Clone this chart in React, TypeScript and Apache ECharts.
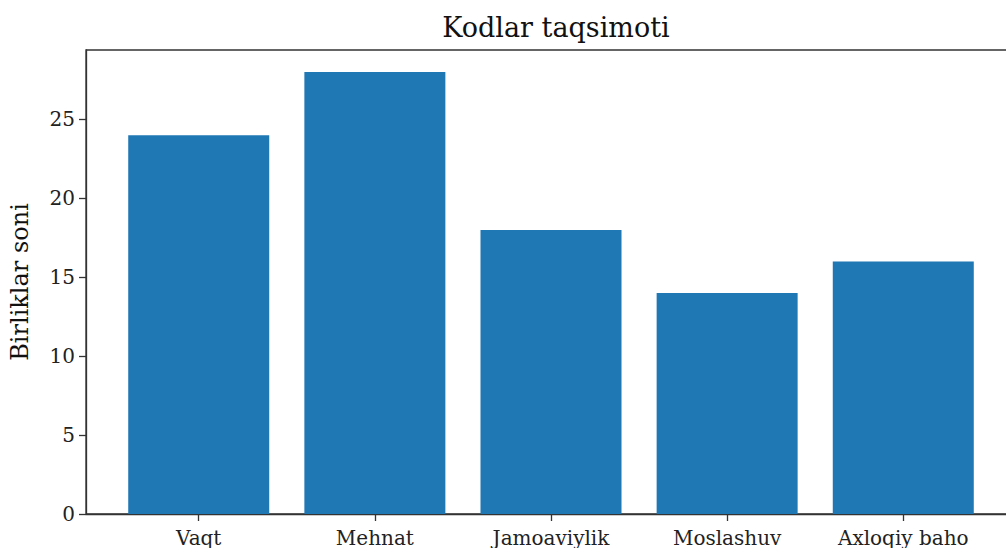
import React, { useEffect, useRef } from "react";
import * as echarts from "echarts";

const categories = ["Vaqt", "Mehnat", "Jamoaviylik", "Moslashuv", "Axloqiy baho"];
const values = [24, 28, 18, 14, 16];
const yTicks = [0, 5, 10, 15, 20, 25];

export default function App() {
  const ref = useRef<HTMLDivElement>(null);
  useEffect(() => {
    const chart = echarts.init(ref.current!, null, { renderer: "svg" });
    const font = "'DejaVu Serif', serif";
    chart.setOption({
      animation: false,
      backgroundColor: "#ffffff",
      title: {
        text: "Kodlar taqsimoti",
        left: 551,
        textAlign: "center",
        top: 9,
        textStyle: { fontFamily: font, fontSize: 27, fontWeight: "normal", color: "#111" },
      },
      grid: {
        left: 86,
        top: 50,
        height: 464,
        width: 930,
        outerBoundsMode: "none",
        containLabel: false,
        show: true,
        borderColor: "#333",
        borderWidth: 1.3,
        backgroundColor: "transparent",
      },
      xAxis: {
        type: "value",
        min: -0.64,
        max: 4.64,
        splitLine: { show: false },
        axisLine: { show: true, onZero: false, lineStyle: { color: "#333", width: 1.3 } },
        axisTick: {
          show: true,
          inside: false,
          length: 7,
          customValues: [0, 1, 2, 3, 4],
          lineStyle: { color: "#333", width: 1.3 },
        },
        axisLabel: {
          show: true,
          customValues: [0, 1, 2, 3, 4],
          formatter: (v: number) => categories[Math.round(v)] ?? "",
          margin: 14,
          fontFamily: font,
          fontSize: 20,
          color: "#222",
        },
      },
      yAxis: {
        type: "value",
        min: 0,
        max: 29.4,
        interval: 5,
        name: "Birliklar soni",
        nameLocation: "middle",
        nameGap: 54,
        nameTextStyle: { fontFamily: font, fontSize: 24, color: "#111" },
        splitLine: { show: false },
        axisLine: { show: true, onZero: false, lineStyle: { color: "#333", width: 1.3 } },
        axisTick: {
          show: true,
          inside: false,
          length: 7,
          customValues: yTicks,
          lineStyle: { color: "#333", width: 1.3 },
        },
        axisLabel: {
          customValues: yTicks,
          margin: 11,
          fontFamily: font,
          fontSize: 20,
          color: "#222",
        },
      },
      series: [
        {
          type: "bar",
          data: values.map((v, i) => [i, v]),
          barWidth: 141,
          itemStyle: { color: "#1f77b4" },
        },
      ],
    });
    return () => chart.dispose();
  }, []);
  return (
    <div
      ref={ref}
      style={{ position: "fixed", left: 0, top: 0, width: 1006, height: 548 }}
    />
  );
}
